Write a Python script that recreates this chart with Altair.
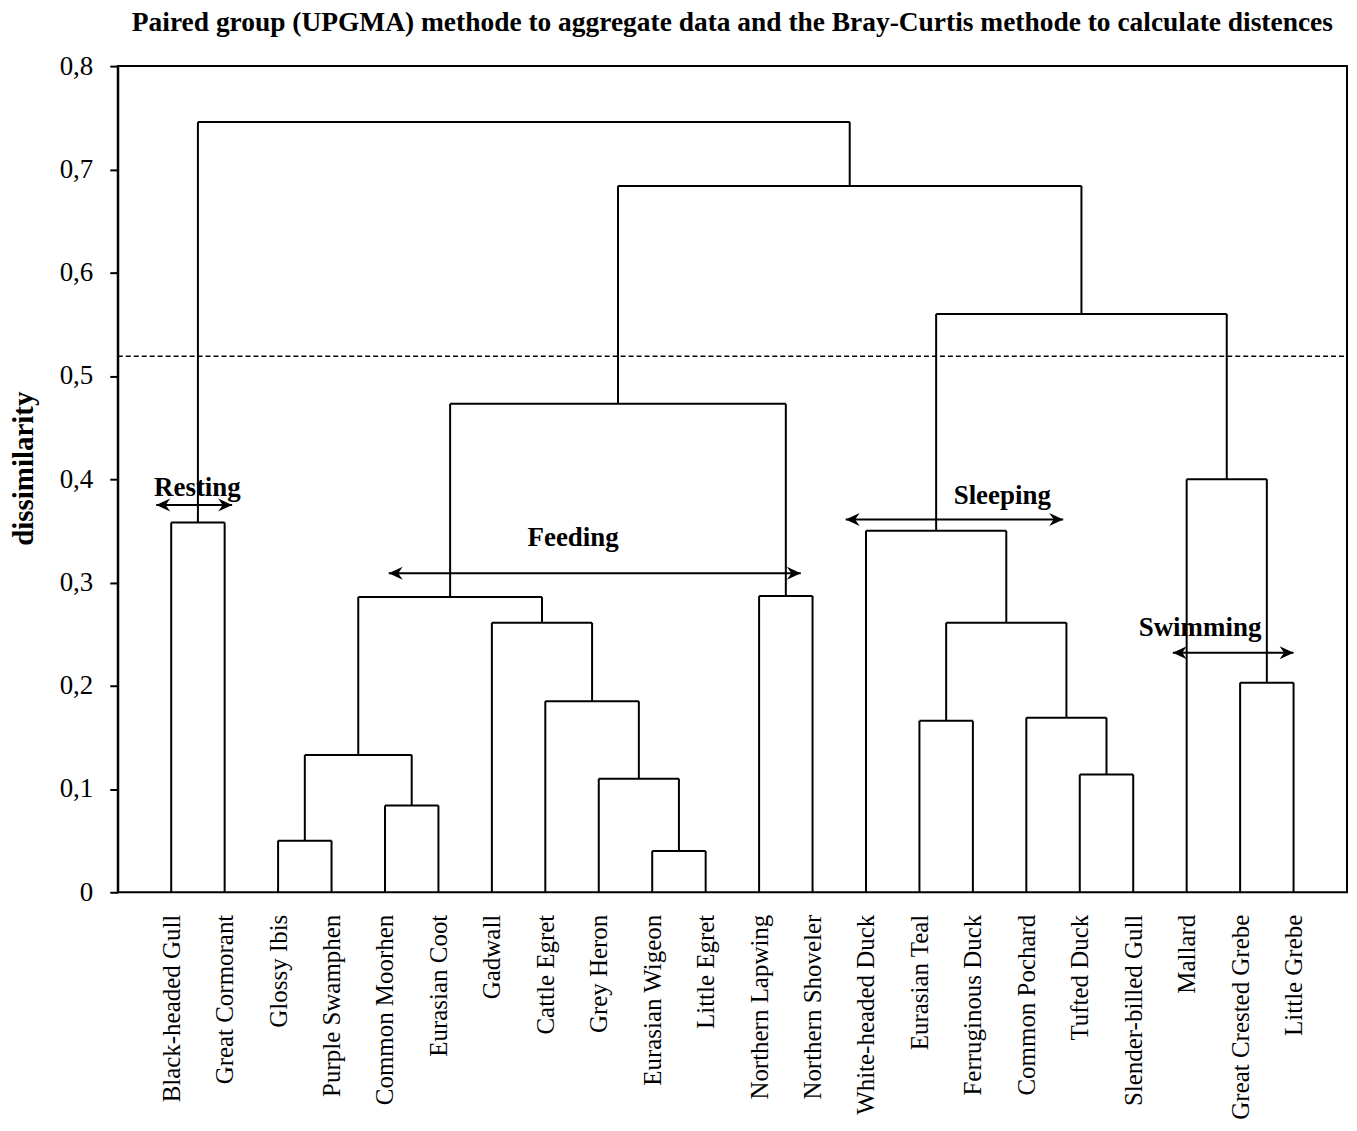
import json
import altair as alt
import pandas as pd

# ---------------- data ----------------
leaves = ["Black-headed Gull", "Great Cormorant", "Glossy Ibis", "Purple Swamphen",
          "Common Moorhen", "Eurasian Coot", "Gadwall", "Cattle Egret", "Grey Heron",
          "Eurasian Wigeon", "Little Egret", "Northern Lapwing", "Northern Shoveler",
          "White-headed Duck", "Eurasian Teal", "Ferruginous Duck", "Common Pochard",
          "Tufted Duck", "Slender-billed Gull", "Mallard", "Great Crested Grebe", "Little Grebe"]

# merges (scipy style: ids 0..21 are leaves, 22+ are clusters in order)
merge_left = [0, 2, 4, 23, 9, 8, 7, 6, 25, 11, 30, 14, 17, 16, 33, 13, 20, 19, 37, 32, 22]
merge_right = [1, 3, 5, 24, 10, 26, 27, 28, 29, 12, 31, 15, 18, 34, 35, 36, 21, 38, 39, 40, 41]
merge_height = [0.358, 0.050, 0.084, 0.133, 0.040, 0.110, 0.185, 0.261, 0.286, 0.287,
                0.473, 0.166, 0.114, 0.169, 0.261, 0.350, 0.203, 0.400, 0.560, 0.684, 0.746]

cut_height = 0.519

group_names = ["Resting", "Feeding", "Sleeping", "Swimming"]
arrow_start = [-0.28, 4.07, 12.62, 18.74]
arrow_end = [1.14, 11.78, 16.69, 21.0]
arrow_y = [0.375, 0.309, 0.361, 0.232]
label_x = [0.49, 7.52, 15.55, 19.25]
label_y = [0.391, 0.343, 0.384, 0.256]

y_ticks = [0, 0.1, 0.2, 0.3, 0.4, 0.5, 0.6, 0.7, 0.8]

# ---------------- build segments ----------------
pos = {i: float(i) for i in range(len(leaves))}
hgt = {i: 0.0 for i in range(len(leaves))}
segs = []
for k, (a, b, h) in enumerate(zip(merge_left, merge_right, merge_height)):
    nid = len(leaves) + k
    xa, xb = pos[a], pos[b]
    segs.append(dict(x=xa, x2=xb, y=h, y2=h))
    segs.append(dict(x=xa, x2=xa, y=hgt[a], y2=h))
    segs.append(dict(x=xb, x2=xb, y=hgt[b], y2=h))
    pos[nid] = (xa + xb) / 2
    hgt[nid] = h
seg_df = pd.DataFrame(segs)

arrows_df = pd.DataFrame(dict(name=group_names, x=arrow_start, x2=arrow_end, y=arrow_y,
                              lx=label_x, ly=label_y))
head_left = pd.DataFrame(dict(x=arrow_start, y=arrow_y))
head_right = pd.DataFrame(dict(x=arrow_end, y=arrow_y))
cut_df = pd.DataFrame(dict(x=[-1.0], x2=[22.0], y=[cut_height]))

SERIF = "Liberation Serif"
xscale = alt.Scale(domain=[-1, 22], nice=False, zero=False)
yscale = alt.Scale(domain=[0, 0.8], nice=False)

label_expr = json.dumps(leaves) + "[datum.value]"

xaxis = alt.Axis(values=list(range(len(leaves))), labelExpr=label_expr, title=None,
                 domain=False, ticks=False, grid=False, labelAngle=270, labelAlign="right",
                 labelBaseline="middle", labelPadding=22, labelFont=SERIF, labelFontSize=25,
                 labelLimit=0,
                 labelColor="black", labelOverlap=False, labelBound=False, labelFlush=False)
yaxis = alt.Axis(values=y_ticks,
                 labelExpr="datum.value == 0 ? '0' : replace(format(datum.value, '.1f'), '.', ',')",
                 title="dissimilarity", titleFont=SERIF, titleFontSize=29, titleFontWeight="bold",
                 titleColor="black", titleAngle=270, titleAlign="center", titleBaseline="middle",
                 titleX=-94, titleY=403,
                 grid=False, domainColor="black", domainWidth=2, tickColor="black", tickWidth=2,
                 tickSize=8, labelFont=SERIF, labelFontSize=27, labelColor="black", labelPadding=17)

tree = alt.Chart(seg_df).mark_rule(color="black", strokeWidth=2).encode(
    x=alt.X("x:Q", scale=xscale, axis=xaxis),
    x2="x2:Q",
    y=alt.Y("y:Q", scale=yscale, axis=yaxis),
    y2="y2:Q",
)

cut = alt.Chart(cut_df).mark_rule(color="black", strokeWidth=1.5, strokeDash=[5, 3]).encode(
    x="x:Q", x2="x2:Q", y="y:Q")

arrow_lines = alt.Chart(arrows_df).mark_rule(color="black", strokeWidth=2).encode(
    x="x:Q", x2="x2:Q", y="y:Q")

left_heads = alt.Chart(head_left).mark_point(
    shape="M0,0L1.4,-0.65L0.95,0L1.4,0.65Z", size=400, filled=True, color="black", opacity=1
).encode(x="x:Q", y="y:Q")
right_heads = alt.Chart(head_right).mark_point(
    shape="M0,0L-1.4,-0.65L-0.95,0L-1.4,0.65Z", size=400, filled=True, color="black", opacity=1
).encode(x="x:Q", y="y:Q")

labels = alt.Chart(arrows_df).mark_text(font=SERIF, fontSize=27, fontWeight="bold",
                                         color="black", align="center", baseline="middle").encode(
    x="lx:Q", y="ly:Q", text="name:N")

chart = alt.layer(tree, cut, arrow_lines, left_heads, right_heads, labels).properties(
    width=1232, height=828,
    autosize=alt.AutoSizeParams(type="none"),
    padding={"left": 110, "top": 57, "right": 2, "bottom": 230},
    title=alt.TitleParams(
        "Paired group (UPGMA)  methode to aggregate data and the Bray-Curtis methode to calculate distences",
        font=SERIF, fontSize=27.5, fontWeight="bold", color="black", anchor="middle", offset=16),
).configure(background="white").configure_view(stroke="black", strokeWidth=2)

chart.save("out.html", embed_options={"renderer": "svg", "actions": False})
